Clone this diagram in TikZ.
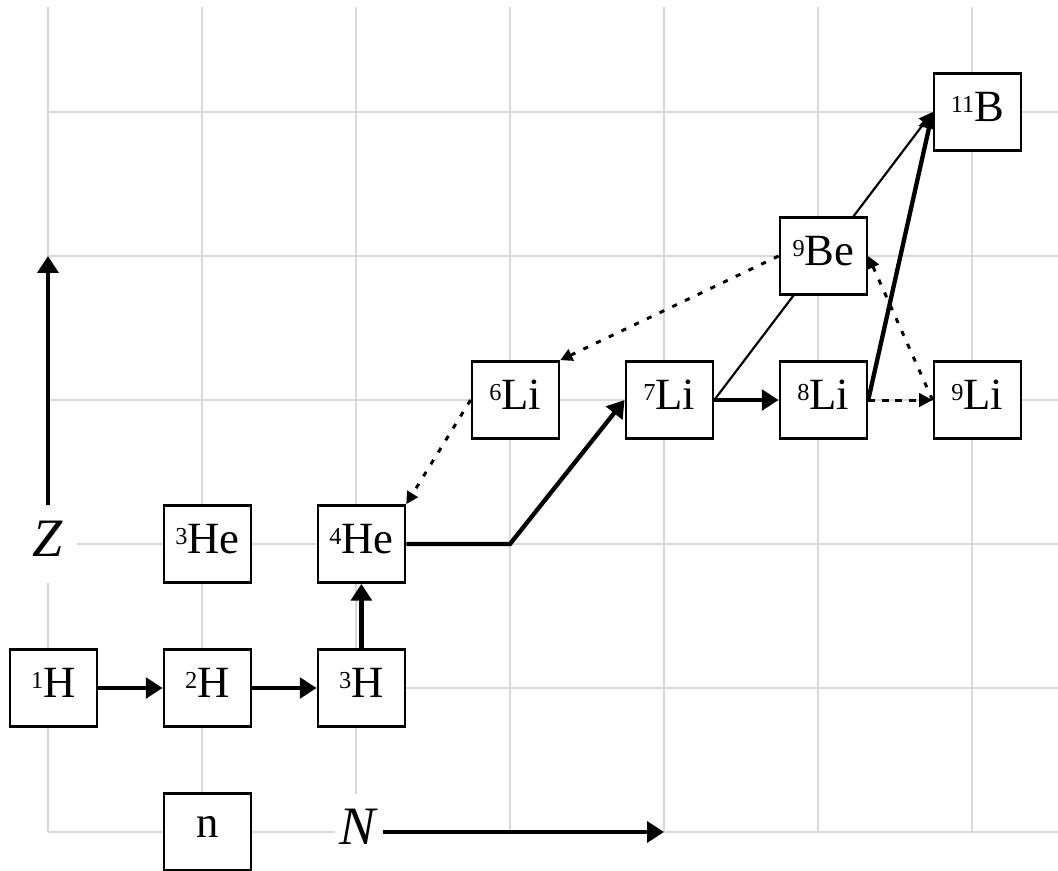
\documentclass[tikz,border=0pt]{standalone}
\usepackage{fontspec}
\setmainfont{Liberation Serif}
\usetikzlibrary{arrows.meta}

\newcommand{\nuc}[2]{\raisebox{3.4pt}{\fontsize{9}{9}\selectfont #1}#2}

\pgfdeclarelayer{grid}
\pgfdeclarelayer{links}
\pgfsetlayers{grid,links,main}

\tikzset{
  nucl/.style={draw, line width=1pt, fill=white, minimum width=1.13cm, minimum height=1cm,
    inner sep=0pt, text depth=4pt, xshift=2pt, font=\fontsize{16.5}{20}\selectfont},
  axislabel/.style={fill=white, minimum height=1cm, inner sep=0pt, text depth=4pt,
    font=\fontsize{20}{24}\selectfont},
  gridline/.style={black!15, line width=0.6pt},
  thickarrow/.style={line width=1.6pt, -{Triangle[length=6.2pt,width=7.6pt]}},
  thinarrow/.style={line width=0.8pt, -{Triangle[length=5pt,width=5pt]}},
  dottedarrow/.style={line width=1.1pt, dash pattern=on 1.9pt off 3.3pt, -{Triangle[length=4.5pt,width=4.5pt]}},
  dashedarrow/.style={line width=1.1pt, dash pattern=on 2.5pt off 2.5pt, -{Triangle[length=5pt,width=5pt]}}
}

\begin{document}
\begin{tikzpicture}[x=2cm, y=1.87cm]

\useasboundingbox (-0.623cm,-0.506cm) rectangle (13.117cm,10.805cm);

\begin{pgfonlayer}{grid}
\draw[gridline, xstep=2cm, ystep=1.87cm] (0,0) grid (6.56,5.73);
\end{pgfonlayer}

\node[nucl] (n)   at (1,0) {n};
\node[nucl] (h1)  at (0,1) {\nuc{1}{H}};
\node[nucl] (h2)  at (1,1) {\nuc{2}{H}};
\node[nucl] (h3)  at (2,1) {\nuc{3}{H}};
\node[nucl] (he3) at (1,2) {\nuc{3}{He}};
\node[nucl] (he4) at (2,2) {\nuc{4}{He}};
\node[nucl] (li6) at (3,3) {\nuc{6}{Li}};
\node[nucl] (li7) at (4,3) {\nuc{7}{Li}};
\node[nucl] (li8) at (5,3) {\nuc{8}{Li}};
\node[nucl] (li9) at (6,3) {\nuc{9}{Li}};
\node[nucl] (be9) at (5,4) {\nuc{9}{Be}};
\node[nucl] (b11) at (6,5) {\nuc{11}{B}};

\node[axislabel, minimum width=0.75cm] (Z) at (0,2) {\textit{Z}};
\node[axislabel, minimum width=0.61cm, xshift=1pt] (N) at (2,0) {\textit{N}};

\coordinate (ztip) at (0,4);
\coordinate (ntip) at (4,0);
\coordinate (bend) at (3,2);

\begin{pgfonlayer}{links}
\draw[thickarrow] (Z) -- (ztip);
\draw[thickarrow] (N) -- (ntip);

\draw[thickarrow] (h1) -- (h2);
\draw[thickarrow] (h2) -- (h3);
\draw[thickarrow] (h3) -- (he4);
\draw[thickarrow] (he4) -- (bend) -- (li7.west);
\draw[thickarrow] (li7) -- (li8);
\draw[thickarrow] (li8.east) -- (b11.west);
\draw[thinarrow] (li7.east) -- (b11.west);
\draw[dashedarrow] (li8) -- (li9);

\draw[dottedarrow] (li9.west) -- (be9.east);
\draw[dottedarrow] (be9.west) -- (li6.north east);
\draw[dottedarrow] (li6.west) -- (he4.north east);
\end{pgfonlayer}

\end{tikzpicture}
\end{document}
